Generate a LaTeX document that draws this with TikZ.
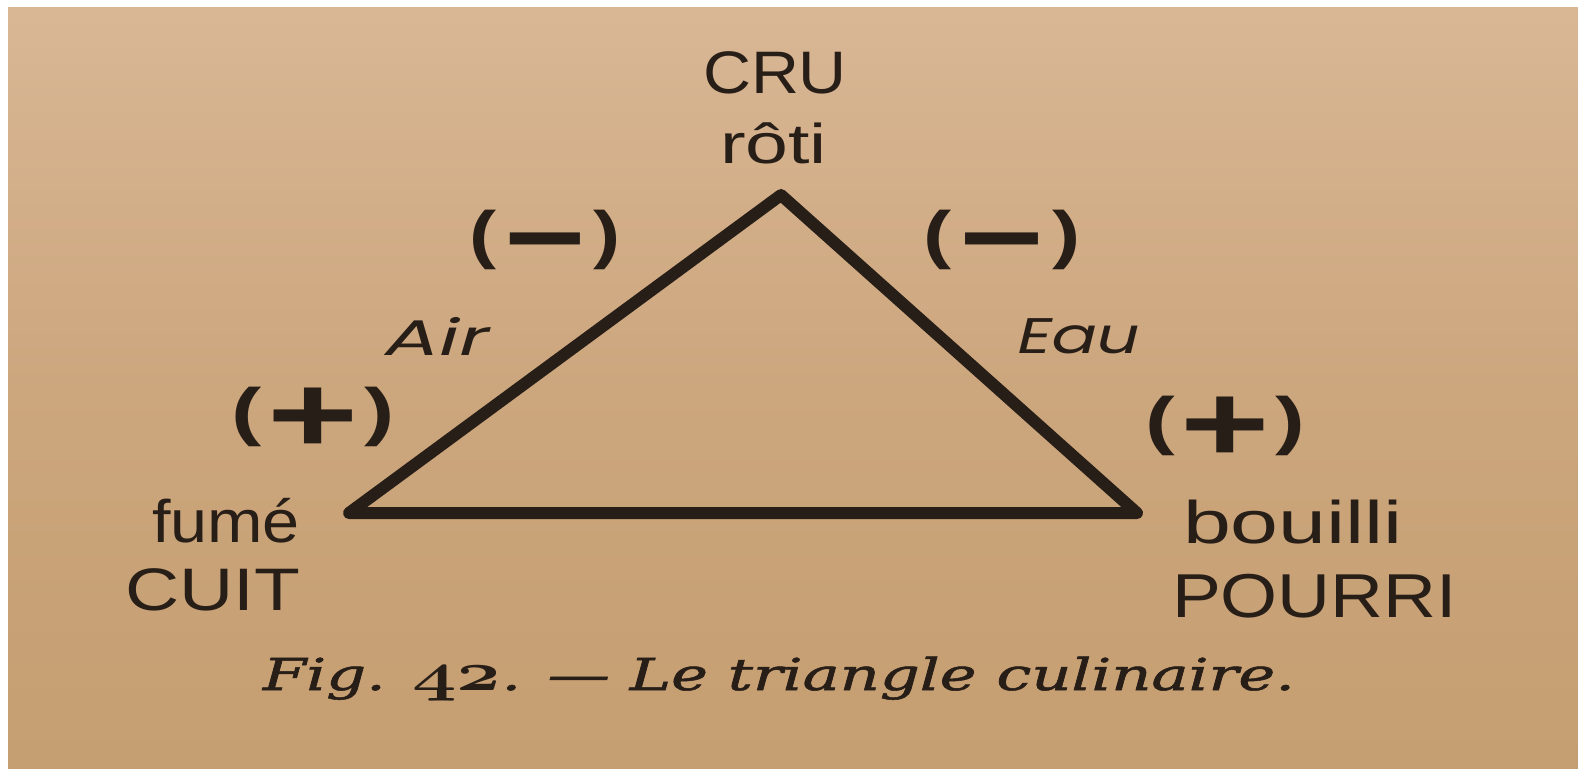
\documentclass[tikz,border=0pt]{standalone}
\usepackage{fontspec}
\newfontfamily\labfont{Liberation Sans}
\newfontfamily\geofont[FakeSlant=0.18]{Poppins}
\newfontfamily\captfont[FakeBold=1.2]{DejaVu Serif}
\definecolor{ink}{RGB}{40,30,24}
\definecolor{pagetop}{RGB}{217,183,149}
\definecolor{pagemid}{RGB}{204,166,125}
\definecolor{pagebot}{RGB}{197,158,113}
\newcommand\fitw[2]{\resizebox{#1}{\height}{#2}}
% parenthesised sign: #1 = sign, #2 = gap
\newcommand\paren[2]{{\fontsize{64}{64}\selectfont(}\hspace{#2}{\fontsize{110}{110}\selectfont\raisebox{-19pt}{#1}}\hspace{#2}{\fontsize{64}{64}\selectfont)}}
\newcommand\oldnum[1]{{\fontsize{24.88}{25}\usefont{OML}{cmm}{b}{it}\scalebox{2.2}{#1}}}
\tikzset{
  lab/.style={inner sep=0pt, outer sep=0pt, text=ink, font=\labfont\fontsize{60}{60}\selectfont},
  sign/.style={inner sep=0pt, outer sep=0pt, text=ink, font=\labfont\bfseries},
  elem/.style={inner sep=0pt, outer sep=0pt, text=ink, font=\geofont\fontsize{50}{50}\selectfont},
  capt/.style={inner sep=0pt, outer sep=0pt, text=ink, font=\captfont\itshape\fontsize{44}{44}\selectfont},
  tri/.style={draw=ink, line width=12pt, line join=round}
}
\begin{document}
\begin{tikzpicture}[x=1pt,y=-1pt]
\useasboundingbox (0,0) rectangle (1578,768);
\fill[white] (0,0) rectangle (1578,768);
\shade[top color=pagetop, bottom color=pagebot, middle color=pagemid] (8,8) rectangle (1578,768);
% triangle
\coordinate (A) at (781,195);
\coordinate (L) at (349,513);
\coordinate (R) at (1137,513);
\draw[tri] (A) -- (L) -- (R) -- cycle;
% vertex labels
\node[lab, anchor=base west] (cru) at (703,93) {\fitw{144pt}{CRU}};
\node[lab, anchor=base west, font=\labfont\fontsize{56}{56}\selectfont] (roti) at (720,163) {\fitw{107pt}{rôti}};
\node[lab, anchor=base west] (fume) at (152,542) {\fitw{148pt}{fumé}};
\node[lab, anchor=base west] (cuit) at (125,610) {\fitw{175pt}{CUIT}};
\node[lab, anchor=base west] (bouilli) at (1183,543) {\fitw{220pt}{bouilli}};
\node[lab, anchor=base west, font=\labfont\fontsize{62}{62}\selectfont] (pourri) at (1172,617) {\fitw{285pt}{POURRI}};
% signs
\node[sign] (minusL) at (545,243) {\fitw{151pt}{\paren{−}{6pt}}};
\node[sign] (minusR) at (1002,243) {\fitw{157pt}{\paren{−}{6pt}}};
\node[sign] (plusL) at (313,420) {\fitw{163pt}{\paren{+}{4pt}}};
\node[sign] (plusR) at (1225,429) {\fitw{160pt}{\paren{+}{4pt}}};
% elements
\node[elem, anchor=base west] (air) at (381,355) {\fitw{104pt}{Air}};
\node[elem, anchor=base west] (eau) at (1014,353) {\fitw{123pt}{Eau}};
% caption
\node[capt, anchor=base west] (caption) at (263,690) {\fitw{1032pt}{Fig. \oldnum{42}. — Le triangle culinaire.}};
\end{tikzpicture}
\end{document}
